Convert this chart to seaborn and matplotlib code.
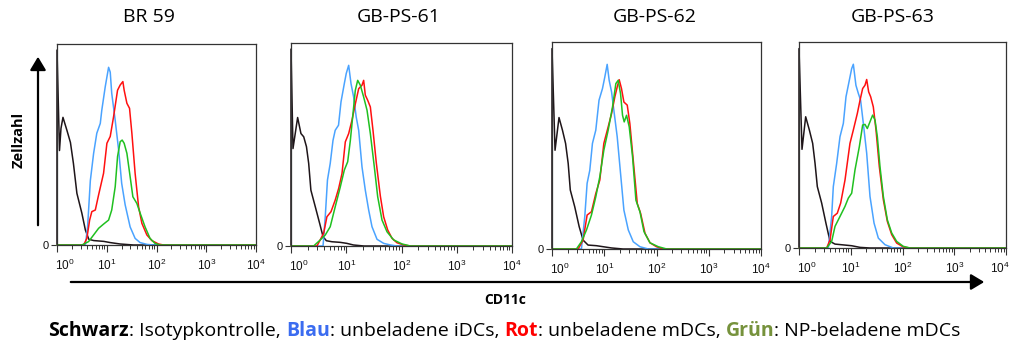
import numpy as np
import pandas as pd
import matplotlib
matplotlib.use("Agg")
import matplotlib.pyplot as plt
import matplotlib.ticker as mticker
from matplotlib.patches import FancyArrowPatch
from matplotlib.transforms import ScaledTranslation
import seaborn as sns

# ---------------- data (log10 CD11c intensity, cell count in % of axis height) -------------
panel_titles = ["BR 59", "GB-PS-61", "GB-PS-62", "GB-PS-63"]
stains = ["Schwarz", "Blau", "Rot", "Grün"]
x_tick_labels = ["$10^{0}$", "$10^{1}$", "$10^{2}$", "$10^{3}$", "$10^{4}$"]

br59_black_log = [0.0, 0.0, 0.05, 0.08, 0.12, 0.2, 0.27, 0.33, 0.4, 0.5, 0.57, 0.64, 0.74, 0.94, 1.07, 1.27, 1.54, 4.0]
br59_black_cnt = [0, 97, 47, 58, 63.5, 57, 51, 40.6, 25.7, 15.8, 7.5, 2.8, 2.2, 1.8, 1.2, 0.5, 0, 0]
br59_blue_log = [0, 0.57, 0.615, 0.67, 0.736, 0.80, 0.87, 0.90, 0.97, 1.037, 1.07, 1.10, 1.17, 1.24, 1.30, 1.37, 1.47, 1.57, 1.67, 1.81, 1.94, 4]
br59_blue_cnt = [0, 0, 9, 32, 45.6, 55.6, 60.5, 67, 78.8, 88.4, 86, 75.5, 62, 47, 30.7, 20, 9, 3.3, 1.2, 0.3, 0, 0]
br59_red_log = [0, 0.535, 0.60, 0.656, 0.70, 0.77, 0.836, 0.936, 1.003, 1.07, 1.137, 1.217, 1.27, 1.324, 1.35, 1.405, 1.458, 1.505, 1.57, 1.64, 1.706, 1.806, 1.906, 2.04, 2.14, 4]
br59_red_cnt = [0, 0, 3.3, 12.4, 16.6, 17.4, 24.9, 35.7, 50.6, 54, 63.8, 77, 79.6, 81.3, 77, 70.5, 68, 55.6, 35.7, 19, 10.8, 5, 2.2, 0.5, 0, 0]
br59_green_log = [0, 0.50, 0.635, 0.736, 0.836, 0.936, 1.037, 1.10, 1.17, 1.217, 1.27, 1.31, 1.35, 1.405, 1.47, 1.525, 1.605, 1.672, 1.77, 1.87, 1.97, 2.07, 4]
br59_green_cnt = [0, 0, 1.7, 5, 8.3, 10.4, 12.4, 17.4, 29, 44, 51.4, 52.2, 50.6, 45.6, 34, 24, 20.7, 15.8, 9, 3.3, 0.8, 0, 0]

gb61_black_log = [0, 0, 0.036, 0.12, 0.18, 0.23, 0.28, 0.32, 0.36, 0.44, 0.52, 0.58, 0.64, 0.74, 0.89, 1.01, 1.13, 1.32, 4]
gb61_black_cnt = [0, 97, 48, 63.3, 55.4, 53.8, 48.9, 40.7, 27.5, 19.3, 11, 4.6, 2.6, 2.1, 1.8, 1.3, 0.5, 0, 0]
gb61_blue_log = [0, 0.58, 0.62, 0.66, 0.71, 0.76, 0.80, 0.86, 0.905, 0.965, 1.0, 1.044, 1.086, 1.134, 1.18, 1.225, 1.285, 1.345, 1.406, 1.466, 1.557, 1.677, 1.80, 1.92, 4]
gb61_blue_cnt = [0, 0, 14.4, 32.5, 40.7, 52, 57, 59.5, 71, 80, 85, 89, 80, 73.4, 63.6, 57, 39, 27.5, 17.7, 9.5, 3.3, 1.3, 0.5, 0, 0]
gb61_red_log = [0, 0.47, 0.59, 0.65, 0.724, 0.80, 0.863, 0.923, 0.983, 1.044, 1.104, 1.164, 1.225, 1.285, 1.315, 1.345, 1.388, 1.436, 1.484, 1.545, 1.617, 1.677, 1.75, 1.828, 1.918, 2.04, 2.16, 4]
gb61_red_cnt = [0, 0, 6.2, 14.4, 16.9, 22.6, 28.4, 35.7, 51.3, 55.4, 62, 70, 77.5, 79.2, 81.6, 74.3, 71.8, 68.5, 57, 40.7, 24.6, 14.4, 7.9, 3.8, 1.6, 0.5, 0, 0]
gb61_green_log = [0, 0.41, 0.53, 0.62, 0.71, 0.80, 0.893, 0.965, 1.026, 1.074, 1.122, 1.164, 1.207, 1.255, 1.315, 1.376, 1.436, 1.508, 1.569, 1.647, 1.738, 1.858, 2.01, 2.16, 4]
gb61_green_cnt = [0, 0, 3, 5.4, 9.5, 19.3, 29.2, 37.4, 41.5, 52, 65.2, 76.7, 81.6, 79.2, 73.4, 66.9, 55.4, 39, 24.3, 12.8, 7, 3, 1, 0, 0]

gb62_black_log = [0, 0, 0.058, 0.134, 0.2, 0.26, 0.31, 0.35, 0.435, 0.52, 0.595, 0.69, 0.85, 0.98, 1.14, 1.36, 4]
gb62_black_cnt = [0, 96.8, 47.7, 63.5, 57.4, 51, 41.3, 28.5, 20.4, 10.8, 4.3, 1.9, 1.6, 1.1, 0.5, 0, 0]
gb62_blue_log = [0, 0.563, 0.627, 0.672, 0.723, 0.774, 0.838, 0.90, 0.966, 1.01, 1.056, 1.094, 1.14, 1.184, 1.248, 1.312, 1.376, 1.46, 1.555, 1.683, 1.843, 4]
gb62_blue_cnt = [0, 0, 15.6, 31.7, 38, 51, 57.4, 71.9, 77.5, 83, 89.2, 81.5, 75.9, 67, 54.2, 36.5, 18.8, 9.2, 3.5, 1.1, 0, 0]
gb62_red_log = [0, 0.5, 0.595, 0.672, 0.755, 0.838, 0.915, 0.992, 1.075, 1.14, 1.203, 1.248, 1.286, 1.33, 1.376, 1.44, 1.49, 1.555, 1.632, 1.696, 1.78, 1.875, 2.0, 2.13, 4]
gb62_red_cnt = [0, 0, 4.3, 16.4, 18, 26.8, 33.3, 51, 59, 65.4, 73.5, 78.3, 81.8, 77.5, 71, 69.5, 60.6, 42.9, 22, 17.2, 7.6, 3, 1.1, 0, 0]
gb62_green_log = [0, 0.467, 0.563, 0.66, 0.755, 0.838, 0.915, 0.992, 1.075, 1.158, 1.222, 1.267, 1.312, 1.35, 1.382, 1.427, 1.478, 1.542, 1.606, 1.683, 1.76, 1.875, 2.035, 2.195, 4]
gb62_green_cnt = [0, 0, 3.5, 9.2, 16.4, 25.2, 34.9, 47.7, 57.4, 68.6, 79.9, 81.5, 75, 64.6, 61.4, 64.6, 59, 44.5, 23.6, 18, 8.4, 3, 1.1, 0, 0]

gb63_black_log = [0, 0, 0.058, 0.129, 0.2, 0.264, 0.31, 0.354, 0.438, 0.52, 0.6, 0.696, 0.857, 1.018, 1.18, 1.37, 4]
gb63_black_cnt = [0, 96.8, 47.9, 63.7, 57.3, 50.8, 41.1, 29.8, 21.8, 12.1, 3.2, 1.9, 1.5, 1.1, 0.3, 0, 0]
gb63_blue_log = [0, 0.567, 0.631, 0.663, 0.728, 0.792, 0.857, 0.908, 0.973, 1.018, 1.05, 1.10, 1.147, 1.19, 1.243, 1.308, 1.372, 1.45, 1.533, 1.662, 1.823, 4]
gb63_blue_cnt = [0, 0, 15.3, 29.8, 41.1, 54, 60.5, 73.4, 81.5, 87.1, 89.2, 79, 75, 71.8, 60.5, 46, 25, 12.1, 4.8, 1.6, 0, 0]
gb63_red_log = [0, 0.535, 0.6, 0.663, 0.74, 0.805, 0.889, 0.985, 1.05, 1.127, 1.18, 1.23, 1.275, 1.308, 1.346, 1.385, 1.436, 1.488, 1.552, 1.63, 1.707, 1.791, 1.887, 2.016, 2.145, 4]
gb63_red_cnt = [0, 0, 4, 15.3, 16.9, 21.8, 33, 50.8, 57.3, 65.3, 71.8, 77.4, 79, 81.8, 75.8, 73.4, 68.5, 57.3, 39.5, 23.4, 12.9, 6.5, 2.4, 0.5, 0, 0]
gb63_green_log = [0, 0.535, 0.631, 0.696, 0.792, 0.889, 0.953, 1.018, 1.082, 1.166, 1.23, 1.275, 1.32, 1.372, 1.423, 1.469, 1.514, 1.565, 1.63, 1.707, 1.791, 1.887, 2.016, 2.145, 4]
gb63_green_cnt = [0, 0, 3.2, 10.5, 15.3, 20.2, 24.2, 26.6, 37.9, 49.2, 59.7, 60, 58, 61.3, 64.5, 62.1, 54, 39.5, 25, 13.7, 7.3, 3.2, 0.8, 0, 0]

panels_data = [
    [(br59_black_log, br59_black_cnt), (br59_blue_log, br59_blue_cnt), (br59_red_log, br59_red_cnt), (br59_green_log, br59_green_cnt)],
    [(gb61_black_log, gb61_black_cnt), (gb61_blue_log, gb61_blue_cnt), (gb61_red_log, gb61_red_cnt), (gb61_green_log, gb61_green_cnt)],
    [(gb62_black_log, gb62_black_cnt), (gb62_blue_log, gb62_blue_cnt), (gb62_red_log, gb62_red_cnt), (gb62_green_log, gb62_green_cnt)],
    [(gb63_black_log, gb63_black_cnt), (gb63_blue_log, gb63_blue_cnt), (gb63_red_log, gb63_red_cnt), (gb63_green_log, gb63_green_cnt)],
]

# ---------------- styling ----------------
sns.set_style("white")
plt.rcParams["font.family"] = ["Liberation Sans", "DejaVu Sans"]
plt.rcParams["mathtext.default"] = "regular"
plt.rcParams["text.color"] = "black"
TXT_FONT = ["Open Sans", "DejaVu Sans"]

palette = {"Schwarz": "#1e1519", "Blau": "#4aa3ff", "Rot": "#ff1010", "Grün": "#20c020"}

W, H = 1009, 347
fig = plt.figure(figsize=(W / 100, H / 100), dpi=100)

# axes boxes in pixels: left, top, right, bottom
boxes = [(57, 44, 256, 245), (291, 43, 512, 246), (552, 42, 761, 249), (799, 42, 1006, 248)]
title_x = [149, 399, 655, 893]

for i, (box, curves) in enumerate(zip(boxes, panels_data)):
    l, t, r, b = box
    ax = fig.add_axes([l / W, 1 - b / H, (r - l) / W, (b - t) / H])
    frames = []
    for stain, (lg, cnt) in zip(stains, curves):
        frames.append(pd.DataFrame({"CD11c": np.power(10.0, lg), "Zellzahl": cnt, "stain": stain}))
    df = pd.concat(frames, ignore_index=True)
    sns.lineplot(data=df, x="CD11c", y="Zellzahl", hue="stain", hue_order=stains,
                 palette=palette, sort=False, estimator=None, legend=False,
                 linewidth=1.1, clip_on=False, ax=ax)
    ax.set_xscale("log")
    ax.set_xlim(1, 1e4)
    ax.set_ylim(0, 100)
    ax.set_xlabel("")
    ax.set_ylabel("")
    ax.set_xticks([1, 10, 100, 1000, 10000])
    ax.set_xticklabels(x_tick_labels)
    ax.xaxis.set_minor_locator(mticker.LogLocator(base=10, subs=np.arange(2, 10)))
    ax.xaxis.set_minor_formatter(mticker.NullFormatter())
    ax.tick_params(axis="x", which="major", direction="out", length=5, width=0.8,
                   color="#333333", labelsize=8.5, pad=4, bottom=True, labelcolor="#111111")
    ax.tick_params(axis="x", which="minor", direction="out", length=3, width=0.7,
                   color="#333333", bottom=True)
    ax.set_yticks([0])
    ax.set_yticklabels(["0"])
    ax.tick_params(axis="y", direction="out", length=4, width=0.8, color="#333333",
                   labelsize=8, pad=2, left=True, labelcolor="#111111")
    labs = ax.get_xticklabels()
    labs[0].set_transform(labs[0].get_transform() + ScaledTranslation(8 / 100, 0, fig.dpi_scale_trans))
    if i == len(boxes) - 1:
        labs[-1].set_transform(labs[-1].get_transform() + ScaledTranslation(-6 / 100, 0, fig.dpi_scale_trans))
    for s in ax.spines.values():
        s.set_color("#333333")
        s.set_linewidth(0.9)
    fig.text(title_x[i] / W, 1 - 17 / H, panel_titles[i], ha="center", va="center",
             fontsize=14, family=TXT_FONT, color="black")

# y arrow
fig.add_artist(FancyArrowPatch((38 / W, 1 - 228 / H), (38 / W, 1 - 54 / H),
                               transform=fig.transFigure, arrowstyle="-|>,head_length=5,head_width=3",
                               mutation_scale=1.6, lw=1.6, color="black"))
fig.text(19 / W, 1 - 140 / H, "Zellzahl", rotation=90, ha="center", va="center",
         fontsize=10.5, fontweight="bold", family=TXT_FONT, color="black")

# x arrow
fig.add_artist(FancyArrowPatch((68 / W, 1 - 282 / H), (987 / W, 1 - 282 / H),
                               transform=fig.transFigure, arrowstyle="-|>,head_length=5,head_width=3",
                               mutation_scale=1.6, lw=1.6, color="black"))
fig.text(505 / W, 1 - 300 / H, "CD11c", ha="center", va="center",
         fontsize=10, fontweight="bold", family=TXT_FONT, color="black")

# caption with coloured keywords
pieces = [("Schwarz", "black", "bold"), (": Isotypkontrolle, ", "black", "normal"),
          ("Blau", "#3b6cf0", "bold"), (": unbeladene iDCs, ", "black", "normal"),
          ("Rot", "#ff0000", "bold"), (": unbeladene mDCs, ", "black", "normal"),
          ("Grün", "#76923c", "bold"), (": NP-beladene mDCs", "black", "normal")]
renderer = fig.canvas.get_renderer()


def layout_caption(size):
    objs = []
    x = 0.0
    for s, c, w in pieces:
        tt = fig.text(0, 1 - 331 / H, s, color=c, fontweight=w, fontsize=size,
                      ha="left", va="center", family=TXT_FONT)
        objs.append((tt, x))
        x += tt.get_window_extent(renderer).width
    return objs, x


cap_left, cap_right = 52, 957
objs, total = layout_caption(12)
size = 12 * (cap_right - cap_left) / total
for tt, _ in objs:
    tt.remove()
objs, total = layout_caption(size)
start = (cap_left + cap_right) / 2 - total / 2
for tt, off in objs:
    tt.set_x((start + off) / W)

fig.savefig("out.png", dpi=100)
